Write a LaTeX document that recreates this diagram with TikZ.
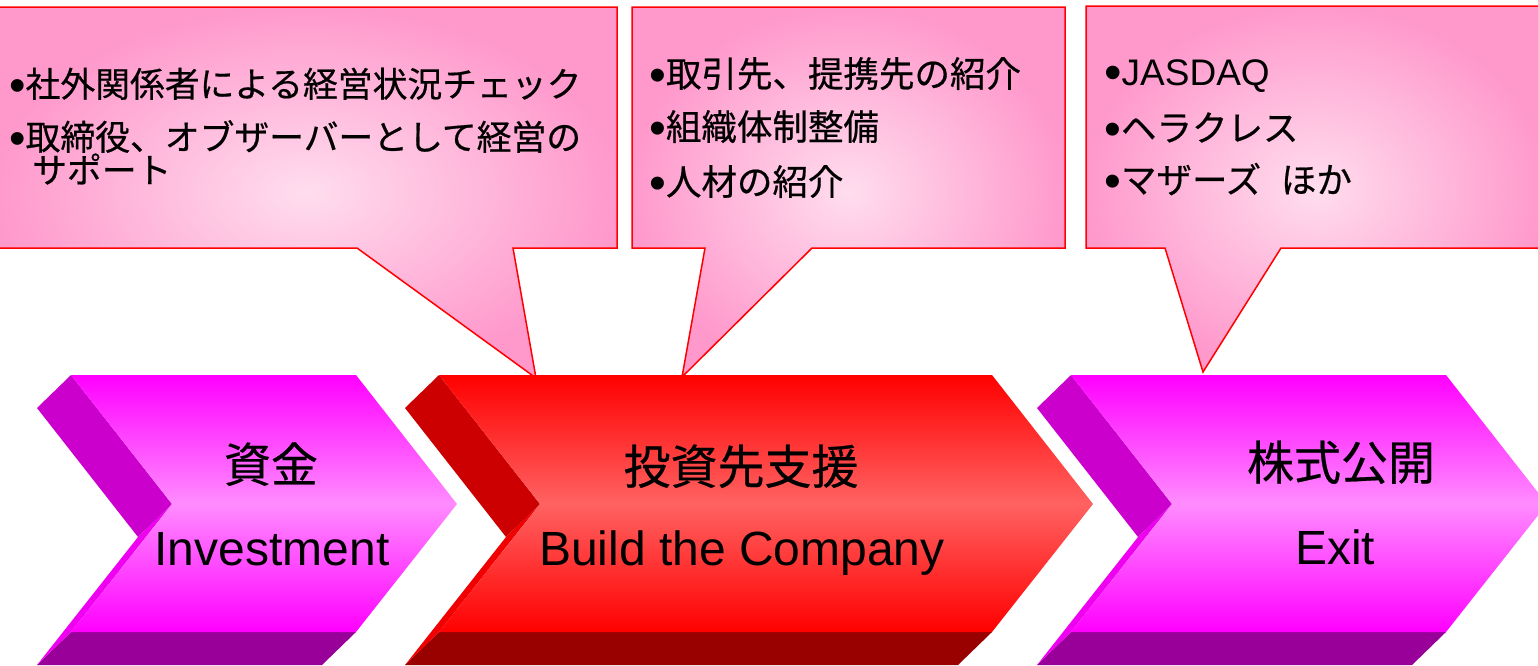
\documentclass[tikz,border=0pt]{standalone}
\usepackage{fontspec}
\setmainfont{Liberation Sans}
\newfontfamily\jp[FakeBold=0.5]{Noto Sans CJK JP}
\definecolor{calloutin}{HTML}{FFDDEE}
\definecolor{calloutout}{HTML}{FF99CC}
\definecolor{magface}{HTML}{FF00FF}
\definecolor{magmid}{HTML}{FF8CFF}
\definecolor{magbevel}{HTML}{CC00CC}
\definecolor{magbottom}{HTML}{990099}
\definecolor{redface}{HTML}{FF0000}
\definecolor{redmid}{HTML}{FF6262}
\definecolor{redbevel}{HTML}{CC0000}
\definecolor{redbottom}{HTML}{990000}
\newcommand\bul{\raisebox{-0.12em}{\scalebox{1.35}{•}}}
% #1 left x, #2 right x, #3 face middle colour, #4 face edge colour, #5 bevel, #6 bottom
\newcommand\mychev[6]{%
  \fill[#6] (#1,632) -- (#2,632) -- (#2-34,665) -- (#1-34,665) -- cycle;
  \fill[#4!70!#5] (#1+101,504) -- (#1,632) -- (#1-34,665) -- (#1+67,537) -- cycle;
  \fill[#5] (#1,375) -- (#1+101,504) -- (#1+67,537) -- (#1-34,408) -- cycle;
  \shade[top color=#4,bottom color=#4,middle color=#3]
    (#1,375) -- (#2,375) -- (#2+101,504) -- (#2,632) -- (#1,632) -- (#1+101,504) -- cycle;
}
\tikzset{
  callout/.style={draw=red, line width=1.5pt, line join=miter, inner color=calloutin, outer color=calloutout},
  ctext/.style={anchor=base west, inner sep=0pt, font=\fontsize{35.5}{36}\selectfont},
  chtext/.style={anchor=base, inner sep=0pt, font=\fontsize{47}{47}\selectfont},
  chlatin/.style={chtext, font=\fontsize{48}{48}\selectfont},
}
\begin{document}
\begin{tikzpicture}[x=1pt,y=-1pt]
\useasboundingbox (0,0) rectangle (1538,665);
% callouts
\draw[callout] (-5,7) -- (617,7) -- (617,248) -- (513,248) -- (536,378) -- (357,248) -- (-5,248) -- cycle;
\draw[callout] (632,7) -- (1065,7) -- (1065,248) -- (812,248) -- (682,377) -- (705,248) -- (632,248) -- cycle;
\draw[callout] (1086,6) -- (1545,6) -- (1545,248) -- (1281,248) -- (1203,372) -- (1165,248) -- (1086,248) -- cycle;
% callout texts
\node[ctext, font=\fontsize{34.8}{35}\selectfont] (c1a) at (9,97) {\bul{\jp 社外関係者による経営状況チェック}};
\node[ctext, font=\fontsize{34.8}{35}\selectfont] (c1b) at (9,150) {\bul{\jp 取締役、オブザーバーとして経営の}};
\node[ctext, font=\fontsize{34.8}{35}\selectfont] (c1c) at (32,183) {{\jp サポート}};
\node[ctext] (c2a) at (649,87) {\bul{\jp 取引先、提携先の紹介}};
\node[ctext] (c2b) at (649,140) {\bul{\jp 組織体制整備}};
\node[ctext] (c2c) at (649,195) {\bul{\jp 人材の紹介}};
\node[ctext, font=\fontsize{37}{37}\selectfont] (c3a) at (1104,85) {\bul JASDAQ};
\node[ctext] (c3b) at (1104,141) {\bul{\jp ヘラクレス}};
\node[ctext] (c3c) at (1104,193) {\bul{\jp マザーズ}~~{\jp ほか}};
% chevrons
\mychev{71}{356}{magmid}{magface}{magbevel}{magbottom}
\mychev{439}{992}{redmid}{redface}{redbevel}{redbottom}
\mychev{1071}{1446}{magmid}{magface}{magbevel}{magbottom}
% chevron texts
\node[chtext] (t1) at (271,482) {\jp 資金};
\node[chlatin] (e1) at (272,565) {Investment};
\node[chtext] (t2) at (741,484) {\jp 投資先支援};
\node[chlatin] (e2) at (742,565) {Build the Company};
\node[chtext] (t3) at (1341,480) {\jp 株式公開};
\node[chlatin] (e3) at (1335,564) {Exit};
\end{tikzpicture}
\end{document}
